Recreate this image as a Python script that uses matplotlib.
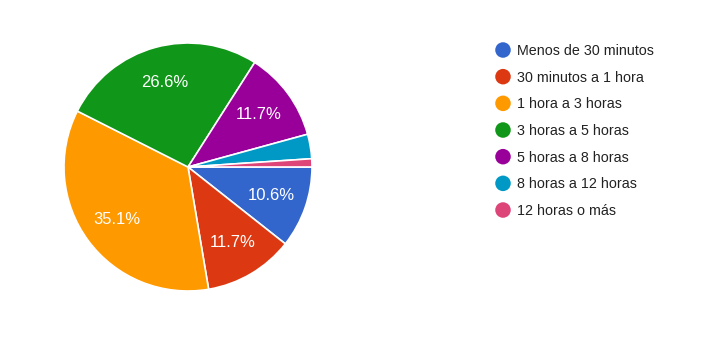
import matplotlib
matplotlib.use("Agg")
import matplotlib.pyplot as plt

plt.rcParams['font.family'] = ['Liberation Sans', 'DejaVu Sans']

categories = [
    "Menos de 30 minutos",
    "30 minutos a 1 hora",
    "1 hora a 3 horas",
    "3 horas a 5 horas",
    "5 horas a 8 horas",
    "8 horas a 12 horas",
    "12 horas o más",
]
counts = [10, 11, 33, 25, 11, 3, 1]
colors = ["#3366cc", "#dc3912", "#ff9900", "#109618", "#990099", "#0099c6", "#dd4477"]

W, H = 720, 340
fig = plt.figure(figsize=(W / 100, H / 100), dpi=100)

# pie: center (188, 167) px from top-left, radius 124 px
cx, cy, r = 188, 167, 124
ax = fig.add_axes([(cx - r) / W, (H - cy - r) / H, 2 * r / W, 2 * r / H])


def fmt(p):
    return "{:.1f}%".format(p) if p >= 5 else ""


wedges, texts, autotexts = ax.pie(
    counts, colors=colors, startangle=0, counterclock=False, radius=1,
    autopct=fmt, pctdistance=0.71,
    wedgeprops=dict(edgecolor="white", linewidth=1.2),
    textprops=dict(color="white", fontsize=12),
)
ax.set_xlim(-1, 1)
ax.set_ylim(-1, 1)
ax.set_aspect("equal")
ax.axis("off")

# legend drawn in pixel coordinates
lax = fig.add_axes([0, 0, 1, 1])
lax.set_xlim(0, W)
lax.set_ylim(H, 0)
lax.axis("off")
y0, dy = 50, 26.67
for i, (name, c) in enumerate(zip(categories, colors)):
    y = y0 + i * dy
    lax.scatter([503], [y], s=125, color=c, edgecolors="none")
    lax.text(517, y + 1, name, fontsize=10.3, color="#222222", va="center", ha="left")

fig.savefig("out.png", dpi=100)
